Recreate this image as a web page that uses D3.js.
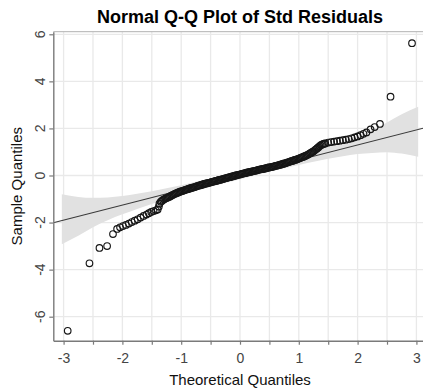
<!DOCTYPE html>
<html><head><meta charset="utf-8">
<script src="https://cdn.jsdelivr.net/npm/d3@7"></script>
<style>body{margin:0;background:#fff}svg{display:block}text{font-family:"Liberation Sans",Arial,sans-serif}</style>
</head><body><svg id="c" width="423" height="390"></svg>
<script>
// ---- data ----
// lower tail: theoretical / sample quantiles
const lowerX = [-2.93,-2.56,-2.39,-2.26,-2.16,-2.09,
 -2.04,-1.99,-1.94,-1.89,-1.84,-1.79,-1.74,-1.69,-1.64,-1.59,-1.55,-1.51,-1.47,-1.43,-1.40,-1.38,-1.37];
const lowerY = [-6.60,-3.73,-3.08,-3.00,-2.49,-2.27,
 -2.20,-2.15,-2.10,-2.04,-1.98,-1.92,-1.86,-1.79,-1.72,-1.66,-1.60,-1.55,-1.51,-1.48,-1.44,-1.32,-1.20];
// dense middle
const denseX = [
 -1.35,-1.33,-1.31,-1.29,-1.27,-1.25,-1.23,-1.21,-1.19,-1.17,
 -1.15,-1.13,-1.11,-1.09,-1.07,-1.05,-1.03,-1.01,-0.99,-0.97,
 -0.95,-0.93,-0.91,-0.89,-0.87,-0.85,-0.83,-0.81,-0.79,-0.77,
 -0.75,-0.73,-0.71,-0.69,-0.67,-0.65,-0.63,-0.61,-0.59,-0.57,
 -0.55,-0.53,-0.51,-0.49,-0.47,-0.45,-0.43,-0.41,-0.39,-0.37,
 -0.35,-0.33,-0.31,-0.29,-0.27,-0.25,-0.23,-0.21,-0.19,-0.17,
 -0.15,-0.13,-0.11,-0.09,-0.07,-0.05,-0.03,-0.01,0.01,0.03,
 0.05,0.07,0.09,0.11,0.13,0.15,0.17,0.19,0.21,0.23,
 0.25,0.27,0.29,0.31,0.33,0.35,0.37,0.39,0.41,0.43,
 0.45,0.47,0.49,0.51,0.53,0.55,0.57,0.59,0.61,0.63,
 0.65,0.67,0.69,0.71,0.73,0.75,0.77,0.79,0.81,0.83,
 0.85,0.87,0.89,0.91,0.93,0.95,0.97,0.99,1.01,1.03,
 1.05,1.07,1.09,1.11,1.13,1.15,1.17,1.19,1.21,1.23,
 1.25,1.27,1.29,1.31,1.33,1.35,1.37,1.39,1.41,1.43];
const denseY = [
 -1.12,-1.08,-1.04,-1.01,-0.98,-0.96,-0.94,-0.91,-0.89,-0.86,
 -0.83,-0.81,-0.78,-0.76,-0.74,-0.72,-0.70,-0.68,-0.66,-0.65,
 -0.63,-0.61,-0.60,-0.58,-0.56,-0.55,-0.53,-0.52,-0.50,-0.49,
 -0.47,-0.45,-0.44,-0.42,-0.41,-0.39,-0.38,-0.36,-0.35,-0.34,
 -0.32,-0.31,-0.30,-0.28,-0.27,-0.26,-0.24,-0.23,-0.22,-0.20,
 -0.19,-0.18,-0.16,-0.15,-0.13,-0.12,-0.11,-0.09,-0.08,-0.07,
 -0.05,-0.04,-0.03,-0.01,0.00,0.02,0.03,0.04,0.05,0.07,
 0.08,0.09,0.10,0.12,0.13,0.14,0.15,0.16,0.18,0.19,
 0.20,0.21,0.22,0.24,0.25,0.26,0.27,0.28,0.29,0.30,
 0.31,0.33,0.34,0.35,0.36,0.37,0.38,0.40,0.41,0.42,
 0.43,0.45,0.46,0.48,0.49,0.51,0.52,0.54,0.56,0.57,
 0.59,0.61,0.62,0.64,0.66,0.67,0.69,0.71,0.73,0.75,
 0.77,0.79,0.81,0.83,0.86,0.88,0.91,0.94,0.97,1.00,
 1.03,1.07,1.11,1.15,1.19,1.24,1.28,1.31,1.33,1.35];
// upper tail
const upperX = [1.45,1.50,1.55,1.60,1.65,1.70,1.75,1.80,1.85,1.90,1.95,2.00,2.05,2.10,2.15,2.22,2.29,2.38,2.56,2.925];
const upperY = [1.36,1.40,1.42,1.44,1.46,1.48,1.50,1.52,1.55,1.58,1.62,1.66,1.71,1.77,1.83,1.96,2.06,2.19,3.35,5.62];
// confidence band
const bandX    = [-3.03,-2.75,-2.5,-2.25,-2.0,-1.75,-1.5,-1.25,-1.0,-0.5,0,0.5,1.0,1.25,1.5,1.75,2.0,2.25,2.5,2.75,3.03];
const bandLow  = [-2.92,-2.56,-2.20,-1.90,-1.65,-1.42,-1.21,-1.02,-0.83,-0.48,-0.16,0.16,0.45,0.58,0.71,0.82,0.91,0.96,0.99,0.93,0.80];
const bandHigh = [-0.80,-0.91,-0.95,-0.93,-0.87,-0.78,-0.67,-0.54,-0.41,-0.12,0.20,0.52,0.87,1.06,1.25,1.46,1.69,1.95,2.25,2.60,2.92];
const lineIntercept = 0.02, lineSlope = 0.639;
const xTicks = [-3,-2.5,-2,-1.5,-1,-0.5,0,0.5,1,1.5,2,2.5,3];
const xTickLabels = ["-3","","-2","","-1","","0","","1","","2","","3"];
const yTicks = [-6,-4,-2,0,2,4,6];
const yTickLabels = ["-6","-4","-2","0","2","4","6"];
const titleText = "Normal Q-Q Plot of Std Residuals";
const xTitle = "Theoretical Quantiles", yTitle = "Sample Quantiles";

const theoretical = lowerX.concat(denseX, upperX);
const sample = lowerY.concat(denseY, upperY);

// ---- layout ----
const L = 53.3, R = 426.7, T = 31.7, B = 340.7;
const x = d3.scaleLinear().domain([-3.175, 3.175]).range([L, R]);
const y = d3.scaleLinear().domain([-7.02, 6.11]).range([B, T]);
const svg = d3.select("#c");

svg.append("defs").append("clipPath").attr("id","clip")
  .append("rect").attr("x",L).attr("y",T).attr("width",R-L).attr("height",B-T);

// grid
const grid = svg.append("g");
grid.selectAll("line.v").data(xTicks).join("line").attr("class","v")
  .attr("x1",d=>x(d)).attr("x2",d=>x(d)).attr("y1",T).attr("y2",B)
  .attr("stroke","#e9e9e9").attr("stroke-width",1.3);
grid.selectAll("line.h").data(yTicks).join("line").attr("class","h")
  .attr("x1",L).attr("x2",R).attr("y1",d=>y(d)).attr("y2",d=>y(d))
  .attr("stroke","#e9e9e9").attr("stroke-width",1.3);

const plot = svg.append("g").attr("clip-path","url(#clip)");
// band
const bandData = bandX.map((v,i)=>({x:v,lo:bandLow[i],hi:bandHigh[i]}));
plot.append("path").datum(bandData)
  .attr("d", d3.area().x(d=>x(d.x)).y0(d=>y(d.lo)).y1(d=>y(d.hi)).curve(d3.curveMonotoneX))
  .attr("fill","#e1e1e1");
// reference line
const xd = x.domain();
plot.append("line")
  .attr("x1",x(xd[0])).attr("y1",y(lineIntercept+lineSlope*xd[0]))
  .attr("x2",x(xd[1])).attr("y2",y(lineIntercept+lineSlope*xd[1]))
  .attr("stroke","#3a3a3a").attr("stroke-width",1.1);
// points
plot.selectAll("circle").data(theoretical.map((t,i)=>[t,sample[i]])).join("circle")
  .attr("cx",d=>x(d[0])).attr("cy",d=>y(d[1])).attr("r",3.3)
  .attr("fill","none").attr("stroke","#161616").attr("stroke-width",1.15);

// panel border (top) and axis lines
svg.append("line").attr("x1",L).attr("x2",R).attr("y1",T).attr("y2",T).attr("stroke","#b0b0b0").attr("stroke-width",1);
// x axis
const xAxis = svg.append("g").attr("transform",`translate(0,${B})`)
  .call(d3.axisBottom(x).tickValues(xTicks).tickSize(4).tickSizeOuter(0).tickPadding(8)
    .tickFormat((d,i)=>xTickLabels[i]));
xAxis.select(".domain").attr("stroke","#7a7a7a").attr("stroke-width",1.4);
xAxis.selectAll(".tick line").attr("stroke","#7a7a7a").attr("stroke-width",1.2);
xAxis.selectAll(".tick text").attr("fill","#444").style("font-size","14px");
// y axis
const yAxis = svg.append("g").attr("transform",`translate(${L},0)`)
  .call(d3.axisLeft(y).tickValues(yTicks).tickSize(4).tickSizeOuter(0).tickFormat(""));
yAxis.select(".domain").attr("stroke","#7a7a7a").attr("stroke-width",1.4);
yAxis.selectAll(".tick line").attr("stroke","#7a7a7a").attr("stroke-width",1.2);
svg.append("g").selectAll("text").data(yTicks).join("text")
  .attr("transform",d=>`translate(44.5,${y(d)}) rotate(-90)`)
  .attr("text-anchor","middle").attr("fill","#444").style("font-size","14px")
  .text((d,i)=>yTickLabels[i]);

// titles
svg.append("text").attr("x",240).attr("y",23).attr("text-anchor","middle")
  .style("font-size","18px").style("font-weight","bold").attr("fill","#000").text(titleText);
svg.append("text").attr("x",240).attr("y",385).attr("text-anchor","middle")
  .style("font-size","15px").attr("fill","#111").text(xTitle);
svg.append("text").attr("transform",`translate(22,${(T+B)/2}) rotate(-90)`).attr("text-anchor","middle")
  .style("font-size","15px").attr("fill","#111").text(yTitle);
</script></body></html>
